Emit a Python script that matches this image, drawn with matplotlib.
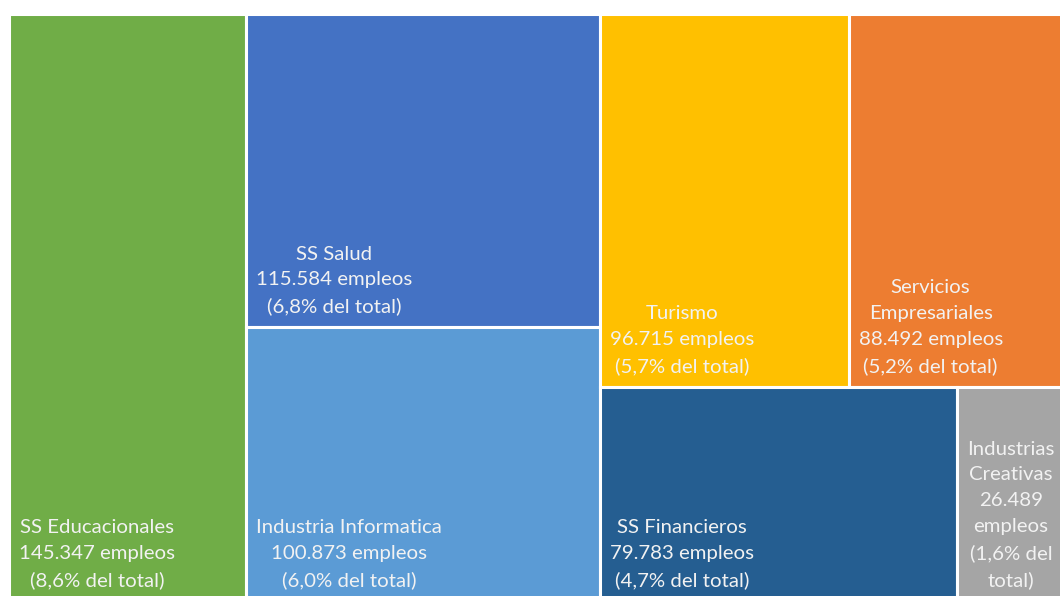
import matplotlib
matplotlib.use("Agg")
import matplotlib.pyplot as plt
from matplotlib.patches import Rectangle

#==========================================================
# data
#==========================================================
sectores = ["SS Educacionales", "SS Salud", "Industria Informatica", "Turismo",
            "Servicios\nEmpresariales", "SS Financieros", "Industrias\nCreativas"]
empleos = [145347, 115584, 100873, 96715, 88492, 79783, 26489]
porcentaje = ["8,6", "6,8", "6,0", "5,7", "5,2", "4,7", "1,6"]
colores = ["#70AD47", "#4472C4", "#5B9BD5", "#FFC000",
           "#ED7D31", "#255E91", "#A5A5A5"]

# treemap structure: 'h' splits width, 'v' splits height
arbol = ("h", [0, ("v", [1, 2]), ("v", [("h", [3, 4]), ("h", [5, 6])])])

#==========================================================
# layout
#==========================================================
def total(node):
    if isinstance(node, int):
        return empleos[node]
    return sum(total(c) for c in node[1])

def layout(node, x, y, w, h, out):
    if isinstance(node, int):
        out[node] = (x, y, w, h)
        return
    kind, kids = node
    s = total(node)
    for c in kids:
        f = total(c) / s
        if kind == "h":
            layout(c, x, y, w * f, h, out)
            x += w * f
        else:
            layout(c, x, y, w, h * f, out)
            y += h * f

W, H = 1067.0, 587.0
rects = {}
layout(arbol, 0.0, 0.0, W, H, rects)

def fmt(v):
    return "{:,}".format(v).replace(",", ".")

#==========================================================
# plot
#==========================================================
fig = plt.figure(figsize=(10.6, 5.96), dpi=100)
ax = fig.add_axes([0, 0, 1, 1])
for i in range(len(empleos)):
    x, y, w, h = rects[i]
    ax.add_patch(Rectangle((x, y), w, h, facecolor=colores[i],
                           edgecolor="white", linewidth=2.2))
    if w < 150:
        txt = "%s\n%s\nempleos\n(%s%% del\ntotal)" % (sectores[i], fmt(empleos[i]), porcentaje[i])
    else:
        txt = "%s\n%s empleos\n(%s%% del total)" % (sectores[i], fmt(empleos[i]), porcentaje[i])
    ax.text(x + 10, y + h - 12, txt, ha="left", va="bottom", multialignment="center",
            color="#F2F2F2", fontsize=14.7, family="Lato", linespacing=1.62)

ax.set_xlim(-9, 1051)
ax.set_ylim(582, -14)
ax.axis("off")
fig.savefig("out.png", dpi=100, facecolor="white")
